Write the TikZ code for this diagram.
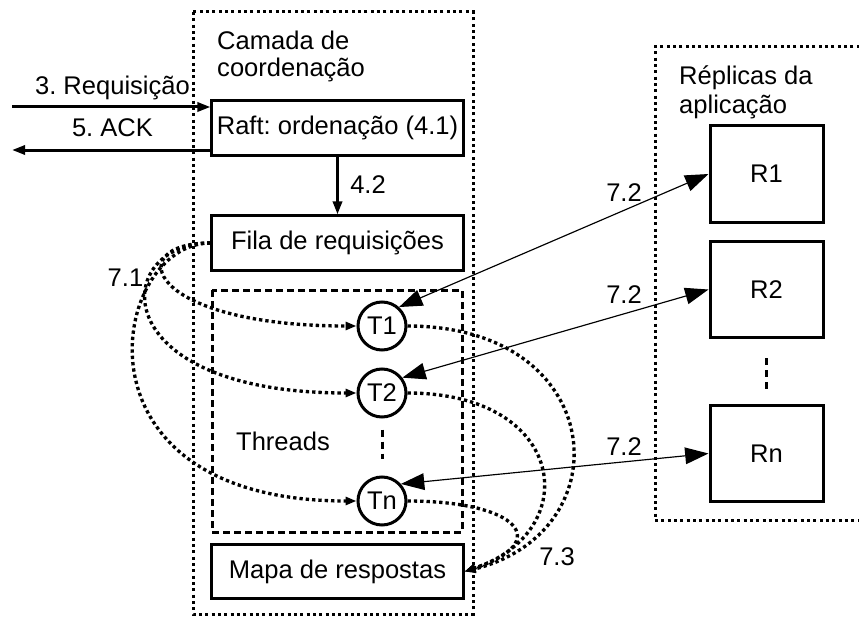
\documentclass[tikz,border=0pt]{standalone}
\usepackage{fontspec}
\setmainfont{Liberation Sans}
\usetikzlibrary{arrows.meta}
\frenchspacing

\begin{document}
\begin{tikzpicture}[x=0.03cm, y=-0.03cm,
		font=\fontsize{21.8pt}{23pt}\selectfont,
		box/.style={draw, line width=0.09cm, minimum width=7.53cm, minimum height=1.62cm, inner sep=0pt},
		replica/.style={draw, line width=0.09cm, minimum width=3.39cm, minimum height=2.88cm, inner sep=0pt},
		thread/.style={draw, circle, line width=0.09cm, minimum size=1.44cm, inner sep=0pt},
		layer/.style={line width=0.09cm, dash pattern=on 0.09cm off 0.1cm},
		group/.style={line width=0.09cm, dash pattern=on 0.21cm off 0.12cm},
		ellipsis/.style={line width=0.09cm, dash pattern=on 0.21cm off 0.15cm},
		flow/.style={line width=0.09cm, -{Triangle[length=0.39cm,width=0.27cm]}},
		dispatch/.style={line width=0.1cm, dash pattern=on 0.1cm off 0.09cm, -{Triangle[length=0.33cm,width=0.24cm]}},
		exec/.style={line width=0.035cm, {Triangle[length=0.7cm,width=0.5cm]}-{Triangle[length=0.7cm,width=0.5cm]}},
		lbl/.style={inner sep=0pt, anchor=base}]
	\useasboundingbox (0,0) rectangle (859,618);

	% camada de coordenacao
	\draw[layer] (193,12) rectangle (473,614);
	\node[lbl, anchor=base west] (layer1) at (217,50) {Camada de};
	\node[lbl, anchor=base west] (layer2) at (217,77) {coordenação};
	\node[box] (Raft) at (337.5,128) {Raft: ordenação (4.1)};
	\node[box] (Fila) at (337.5,243) {Fila de requisições};
	\node[box] (Mapa) at (337.5,571.5) {Mapa de respostas};

	% threads
	\draw[group] (212,290) rectangle (462,532);
	\node[thread] (T1) at (382,326) {T1};
	\node[thread] (T2) at (382,393) {T2};
	\node[thread] (Tn) at (382,501) {Tn};
	\node[lbl] (lthr) at (283,450) {Threads};
	\draw[ellipsis, shorten <=0.33cm, shorten >=0.51cm] (T2.south) -- (Tn.north);

	% replicas da aplicacao
	\draw[layer] (866,47) -- (655,47) -- (655,520) -- (866,520);
	\node[lbl, anchor=base west] (app1) at (679,85) {Réplicas da};
	\node[lbl, anchor=base west] (app2) at (679,113) {aplicação};
	\node[replica] (R1) at (766.5,174) {R1};
	\node[replica] (R2) at (766.5,289.5) {R2};
	\node[replica] (Rn) at (766.5,453.5) {Rn};
	\draw[ellipsis, shorten <=0.57cm, shorten >=0.39cm] (R2.south) -- (Rn.north);

	% cliente
	\coordinate (reqin) at (12,107);
	\coordinate (ackout) at (12,150);
	\draw[flow] (reqin) -- (reqin -| Raft.west);
	\draw[flow] (ackout -| Raft.west) -- (ackout);
	\node[lbl] (lreq) at (112.5,95) {3. Requisição};
	\node[lbl] (lack) at (112.5,137) {5. ACK};
	\draw[flow] (Raft.south) -- (Fila.north);
	\node[lbl] (l42) at (368,193) {4.2};

	% 7.1
	\draw[dispatch] (Fila.west) .. controls +(-90,0) and +(-210,0) .. (T1.west);
	\draw[dispatch] (Fila.west) .. controls +(-100,0) and +(-255,0) .. (T2.west);
	\draw[dispatch] (Fila.west) .. controls +(-100,0) and +(-295,0) .. (Tn.west);
	\node[lbl] (l71) at (125.5,286) {7.1};

	% 7.2
	\draw[exec] (T1.48) -- (R1.west);
	\draw[exec] (T2.37) -- (R2.west);
	\draw[exec] (Tn.42) -- (Rn.west);
	\node[lbl] (l72a) at (624,201) {7.2};
	\node[lbl] (l72b) at (624,303) {7.2};
	\node[lbl] (l72c) at (624,455) {7.2};

	% 7.3
	\draw[dispatch] (T1.east) .. controls +(200,0) and +(160,-40) .. (Mapa.east);
	\draw[dispatch] (T2.east) .. controls +(160,0) and +(120,-40) .. (Mapa.east);
	\draw[dispatch] (Tn.east) .. controls +(110,0) and +(90,-30) .. (Mapa.east);
	\node[lbl] (l73) at (557,565) {7.3};
\end{tikzpicture}
\end{document}
